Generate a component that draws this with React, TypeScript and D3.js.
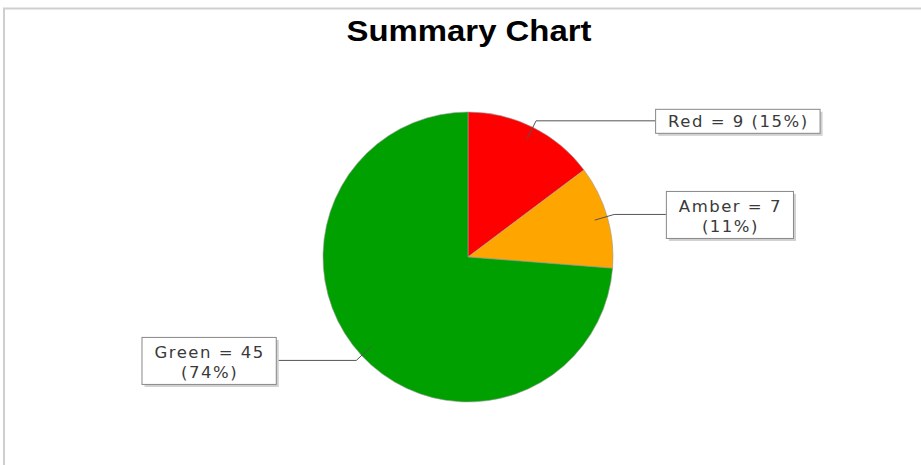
import React, { useEffect, useRef } from "react";
import * as d3 from "d3";

const categories = ["Red", "Amber", "Green"];
const values = [9, 7, 45];
const colors = ["#FF0000", "#FFA500", "#00A000"];
const title = "Summary Chart";

const W = 921;
const H = 465;

export default function App() {
  const ref = useRef<SVGSVGElement>(null);

  useEffect(() => {
    const svg = d3.select(ref.current);
    svg.selectAll("*").remove();

    svg
      .append("rect")
      .attr("x", 4)
      .attr("y", 8.5)
      .attr("width", W + 20)
      .attr("height", H + 20)
      .attr("fill", "#fff")
      .attr("stroke", "#cfcfcf")
      .attr("stroke-width", 2);

    svg
      .append("text")
      .attr("x", 469)
      .attr("y", 41)
      .attr("text-anchor", "middle")
      .attr("font-family", "Liberation Sans, Arial, sans-serif")
      .attr("font-weight", "bold")
      .attr("font-size", 30)
      .attr("textLength", 245)
      .attr("lengthAdjust", "spacingAndGlyphs")
      .attr("fill", "#000")
      .text(title);

    const cx = 468;
    const cy = 257;
    const R = 145;
    const total = d3.sum(values);

    const data = categories.map((c, i) => ({ name: c, value: values[i], color: colors[i] }));
    const pie = d3.pie<any>().sort(null).value((d: any) => d.value);
    const arcs = pie(data);
    const arc = d3.arc<any>().innerRadius(0).outerRadius(R);

    const g = svg.append("g").attr("transform", `translate(${cx},${cy})`);
    g.selectAll("path.slice")
      .data(arcs)
      .enter()
      .append("path")
      .attr("class", "slice")
      .attr("d", arc as any)
      .attr("fill", (d: any) => d.data.color)
      .attr("stroke", "#9a9a9a")
      .attr("stroke-width", 0.6);

    const ellA = 199;
    const ellB = 400;
    const fontSize = 16.5;
    const lineH = 20;

    arcs.forEach((a: any) => {
      const mid = (a.startAngle + a.endAngle) / 2;
      const sx = Math.sin(mid);
      const sy = -Math.cos(mid);
      const p1 = [sx * R * 0.91, sy * R * 0.91];
      const p2 = [sx * R * 1.05, sy * R * 1.05];
      const right = sx >= 0;
      const dy = p2[1];
      const ex = ellA * Math.sqrt(Math.max(0, 1 - (dy / ellB) ** 2)) * (right ? 1 : -1);

      const pct = Math.round((a.data.value / total) * 100);
      const full = `${a.data.name} = ${a.data.value} (${pct}%)`;
      const lines = full.length > 14 ? [`${a.data.name} = ${a.data.value}`, `(${pct}%)`] : [full];

      g.append("polyline")
        .attr("points", [p1, p2, [ex, p2[1]]].map((p) => p.join(",")).join(" "))
        .attr("fill", "none")
        .attr("stroke", "#555")
        .attr("stroke-width", 1);

      const lg = g.append("g");
      const texts = lg
        .selectAll("text")
        .data(lines)
        .enter()
        .append("text")
        .attr("text-anchor", "middle")
        .attr("font-family", "DejaVu Sans, sans-serif")
        .attr("font-size", fontSize)
        .attr("letter-spacing", 1.5)
        .attr("fill", "#3a3a3a")
        .text((t: string) => t);

      let maxW = 0;
      texts.each(function () {
        maxW = Math.max(maxW, (this as SVGTextElement).getComputedTextLength());
      });
      const padX = 12;
      const boxW = maxW + padX * 2;
      const boxH = lines.length === 1 ? 24 : 47;
      const bx = right ? ex : ex - boxW;
      const by = p2[1] - boxH / 2;

      lg.insert("rect", "text")
        .attr("x", bx + 3)
        .attr("y", by + 3)
        .attr("width", boxW)
        .attr("height", boxH)
        .attr("fill", "#d0d0d0");
      lg.insert("rect", "text")
        .attr("x", bx + 0.5)
        .attr("y", by + 0.5)
        .attr("width", boxW)
        .attr("height", boxH)
        .attr("fill", "#fff")
        .attr("stroke", "#888")
        .attr("stroke-width", 1);

      const firstBase = lines.length === 1 ? by + 18 : by + 21;
      texts
        .attr("x", bx + boxW / 2 + 1)
        .attr("y", (_: any, i: number) => firstBase + i * lineH);
    });
  }, []);

  return (
    <svg
      ref={ref}
      width={W}
      height={H}
      style={{ position: "absolute", left: 0, top: 0, background: "#fff" }}
    />
  );
}
